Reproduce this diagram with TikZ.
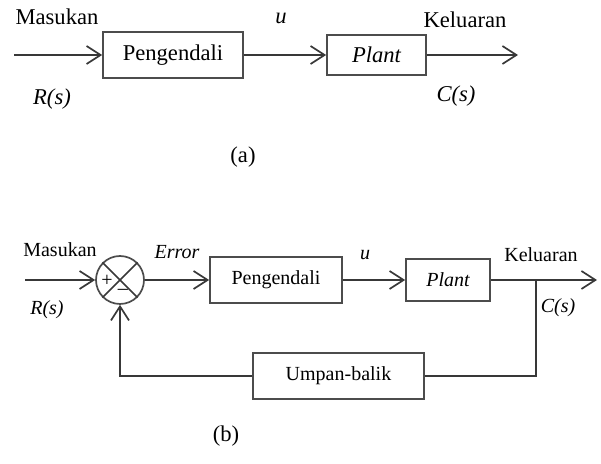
\documentclass[tikz,border=0pt]{standalone}
\usepackage{fontspec}
\setmainfont{Liberation Serif}
\usetikzlibrary{arrows.meta}
\begin{document}
\begin{tikzpicture}[x=0.5pt,y=-0.5pt,
  line/.style={draw=black!78,line width=0.85pt},
  arr/.style={line,-{Straight Barb[length=7pt,width=9pt,line width=0.85pt]}},
  blk/.style={draw=black!70,line width=0.85pt,minimum height=#1,inner sep=0pt},
  biga/.style={font=\fontsize{11.3}{13}\selectfont},
  bigb/.style={font=\fontsize{10}{12}\selectfont},
  lbl/.style={inner sep=0pt}]
\useasboundingbox (0,0) rectangle (601,464);
% ---------------- (a)
\coordinate (ina) at (14,55);
\node[blk=23pt,minimum width=70pt,biga] (pa) at (173,55) {Pengendali};
\node[blk=20pt,minimum width=49.5pt,biga] (pla) at (376.5,55) {\itshape Plant};
\coordinate (outa) at (518,55);
\draw[arr] (ina) -- (pa.west);
\draw[arr] (pa.east) -- (pla.west);
\draw[arr] (pla.east) -- (outa);
\node[lbl,biga] (masa) at (57,17) {Masukan};
\node[lbl,biga] (ua) at (281,18) {\itshape u};
\node[lbl,biga] (kela) at (465,20) {Keluaran};
\node[lbl,biga] (ra) at (52,99) {\itshape R(s)};
\node[lbl,biga] (ca) at (456,96) {\itshape C(s)};
\node[lbl,biga] (capa) at (243,157) {(a)};
% ---------------- (b)
\coordinate (inb) at (25,280);
\node[circle,draw=black!70,line width=0.85pt,minimum size=24pt,inner sep=0pt] (sum) at (120,280) {};
\draw[line] (sum.north west) -- (sum.south east);
\draw[line] (sum.north east) -- (sum.south west);
\node[lbl,bigb] (plus) at (107,281) {+};
\node[lbl,bigb] (minus) at (123,292) {\textendash};
\node[blk=23pt,minimum width=66pt,bigb] (pb) at (276,280) {Pengendali};
\node[blk=21pt,minimum width=42pt,bigb] (plb) at (448,280) {\itshape Plant};
\node[blk=23pt,minimum width=85.5pt,bigb] (ub) at (338.5,376) {Umpan-balik};
\coordinate (outb) at (597,280);
\coordinate (br) at (536,280);
\coordinate (brd) at (536,376);
\coordinate (fbl) at (120,376);
\draw[arr] (inb) -- (sum.west);
\draw[arr] (sum.east) -- (pb.west);
\draw[arr] (pb.east) -- (plb.west);
\draw[arr] (plb.east) -- (outb);
\draw[line] (br) -- (brd) -- (ub.east);
\draw[arr] (ub.west) -- (fbl) -- (sum.south);
\node[lbl,bigb] (masb) at (60,250) {Masukan};
\node[lbl,bigb] (err) at (177,252) {\itshape Error};
\node[lbl,bigb] (ub2) at (365,255) {\itshape u};
\node[lbl,bigb] (kelb) at (541,255) {Keluaran};
\node[lbl,bigb] (cb) at (558,308) {\itshape C(s)};
\node[lbl,bigb] (rb) at (47,310) {\itshape R(s)};
\node[lbl,biga] (capb) at (226,436) {(b)};
\end{tikzpicture}
\end{document}
